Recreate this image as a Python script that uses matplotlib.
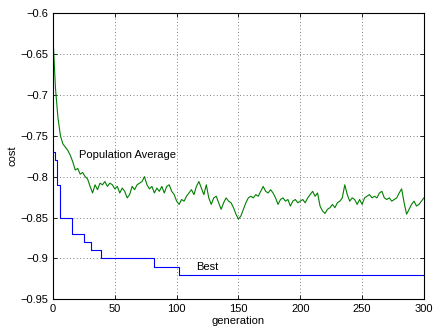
import numpy as np
import matplotlib.pyplot as plt

plt.rcParams['font.family'] = ['Liberation Sans', 'DejaVu Sans']

# population average cost, read every 2 generations
avg_gen = np.arange(0, 301, 2)
avg_cost = [
    -0.630, -0.692, -0.728, -0.750, -0.760, -0.764, -0.768, -0.774, -0.782, -0.792,
    -0.790, -0.797, -0.795, -0.800, -0.803, -0.812, -0.820, -0.810, -0.816, -0.808,
    -0.810, -0.806, -0.812, -0.808, -0.810, -0.815, -0.812, -0.820, -0.814, -0.818,
    -0.826, -0.822, -0.812, -0.816, -0.810, -0.808, -0.806, -0.800, -0.810, -0.815,
    -0.812, -0.820, -0.814, -0.818, -0.812, -0.820, -0.812, -0.810, -0.818, -0.822,
    -0.830, -0.834, -0.828, -0.830, -0.824, -0.820, -0.816, -0.822, -0.812, -0.806,
    -0.814, -0.822, -0.810, -0.826, -0.834, -0.826, -0.824, -0.832, -0.840, -0.832,
    -0.826, -0.830, -0.832, -0.838, -0.846, -0.852, -0.848, -0.840, -0.832, -0.826,
    -0.824, -0.826, -0.822, -0.824, -0.818, -0.812, -0.818, -0.820, -0.816, -0.820,
    -0.826, -0.834, -0.828, -0.826, -0.830, -0.828, -0.836, -0.830, -0.828, -0.832,
    -0.830, -0.828, -0.832, -0.826, -0.822, -0.818, -0.824, -0.820, -0.836, -0.842,
    -0.845, -0.840, -0.838, -0.834, -0.838, -0.832, -0.830, -0.826, -0.810, -0.822,
    -0.830, -0.826, -0.828, -0.834, -0.828, -0.834, -0.826, -0.824, -0.822, -0.826,
    -0.824, -0.826, -0.820, -0.818, -0.826, -0.828, -0.826, -0.830, -0.828, -0.826,
    -0.820, -0.815, -0.832, -0.846, -0.840, -0.834, -0.830, -0.836, -0.834, -0.830,
    -0.826,
]

# best cost, generation where each new value starts
best_gen = [0, 2, 3, 6, 15, 25, 31, 39, 82, 102, 300]
best_cost = [-0.77, -0.78, -0.81, -0.85, -0.87, -0.88, -0.89, -0.90, -0.91, -0.92, -0.92]

ytick_labels = ['\u22120.95', '\u22120.9', '\u22120.85', '\u22120.8',
                '\u22120.75', '\u22120.7', '\u22120.65', '\u22120.6']

fig = plt.figure(figsize=(4.33, 3.30), dpi=100)
ax = fig.add_axes([0.1224, 0.093, 0.8566, 0.8676])

ax.plot(avg_gen, avg_cost, color='#008000', lw=0.8)
ax.plot(best_gen, best_cost, color='#0000ff', lw=0.8, drawstyle='steps-post')

ax.text(21, -0.7736, 'Population Average', fontsize=8, va='center', ha='left')
ax.text(115.5, -0.91, 'Best', fontsize=8, va='center', ha='left')

ax.set_xlim(0, 300)
ax.set_ylim(-0.95, -0.6)
ax.set_xticks(np.arange(0, 301, 50))
ax.set_yticks(np.arange(-0.95, -0.599, 0.05))
ax.set_yticklabels(ytick_labels)
ax.tick_params(direction='in', top=True, right=True, labelsize=8, length=3, width=0.6)
ax.grid(True, linestyle=(0, (1, 3)), color='#555555', linewidth=0.6)
for s in ax.spines.values():
    s.set_linewidth(0.8)

ax.set_xlabel('generation', fontsize=8, labelpad=1)
ax.set_ylabel('cost', fontsize=8, labelpad=2)

fig.savefig('out.png', dpi=100)
